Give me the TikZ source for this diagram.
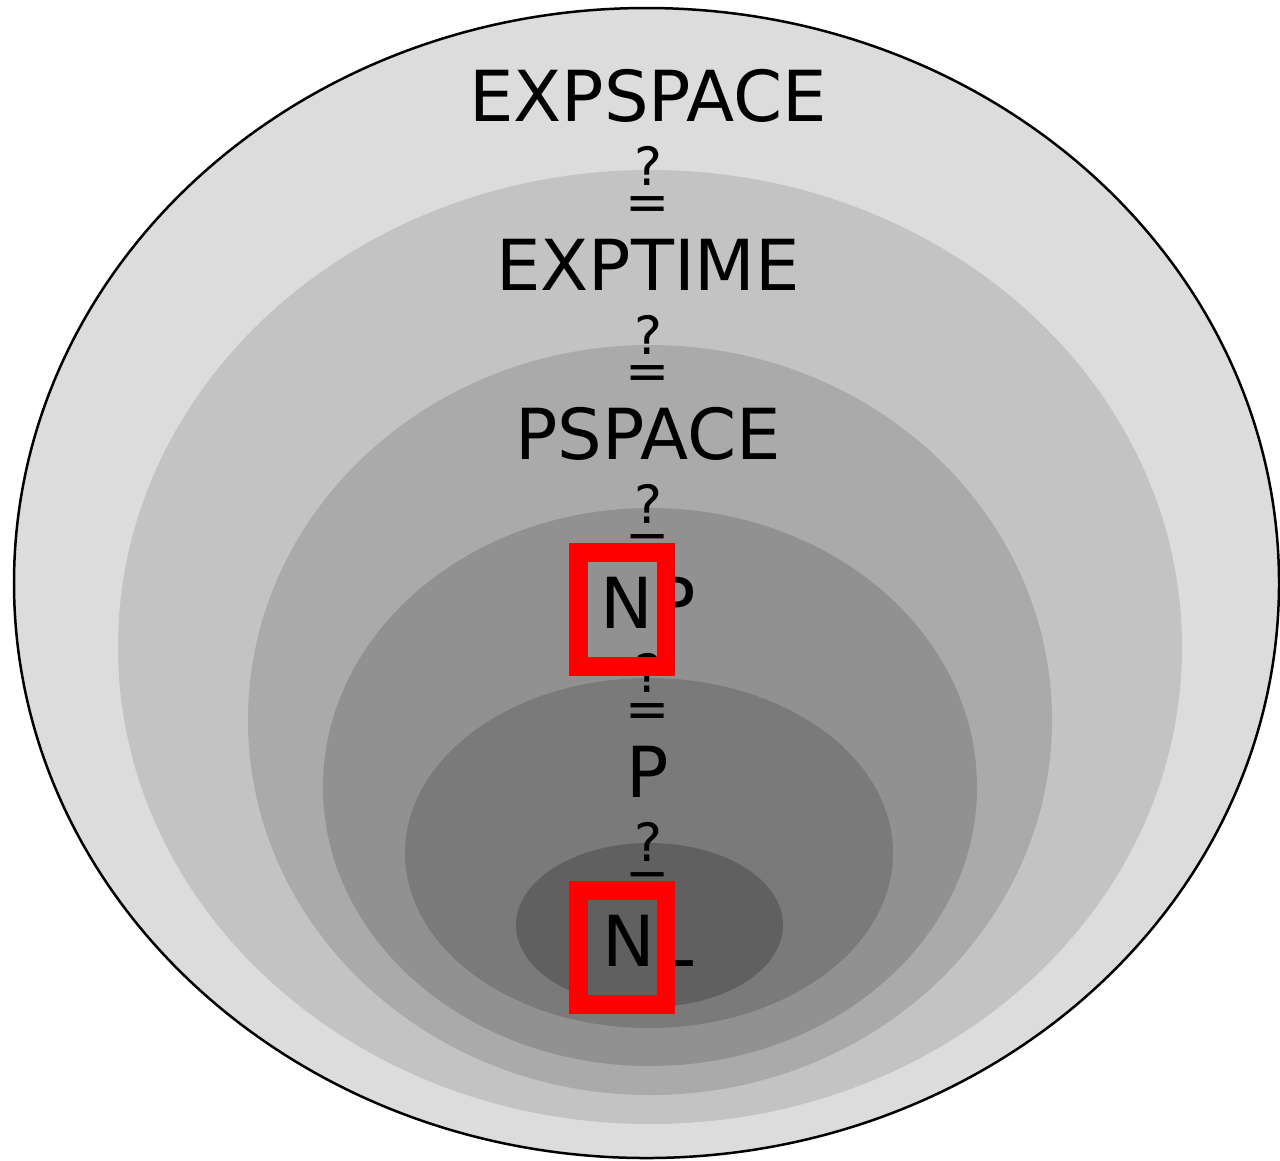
\documentclass[tikz,border=0pt]{standalone}
\usepackage{fontspec}
\setmainfont{DejaVu Sans}
\definecolor{g1}{RGB}{220,220,220}
\definecolor{g2}{RGB}{195,195,195}
\definecolor{g3}{RGB}{170,170,170}
\definecolor{g4}{RGB}{145,145,145}
\definecolor{g5}{RGB}{122,122,122}
\definecolor{g6}{RGB}{96,96,96}
\definecolor{hl}{RGB}{255,0,0}
\begin{document}
\begin{tikzpicture}[x=0.01cm,y=-0.01cm,
  cls/.style={anchor=base,inner sep=0pt,font=\fontsize{20pt}{24pt}\selectfont},
  rel/.style={anchor=base,inner sep=0pt,font=\fontsize{15pt}{18pt}\selectfont},
  hlbox/.style={draw=hl,line width=0.185cm}]
\useasboundingbox (0,0) rectangle (1280,1160);
\fill[white] (0,0) rectangle (1280,1160);
% nested classes
\filldraw[fill=g1,draw=black,line width=0.025cm] (646.5,583) ellipse [x radius=632.5,y radius=575];
\fill[g2] (650,647) ellipse [x radius=532,y radius=477];
\fill[g3] (650,720) ellipse [x radius=402,y radius=375];
\fill[g4] (650,787) ellipse [x radius=327,y radius=279];
\fill[g5] (649,853) ellipse [x radius=244,y radius=175];
\fill[g6] (649.5,925) ellipse [x radius=133.5,y radius=82];
% labels
\node[cls] (expspace) at (648,121) {EXPSPACE};
\node[rel] (q1) at (648,220) {\shortstack{?\\=}};
\node[cls] (exptime) at (648,290) {EXPTIME};
\node[rel] (q2) at (648,389) {\shortstack{?\\=}};
\node[cls] (pspace) at (648,459) {PSPACE};
\node[rel] (q3) at (648,558) {\shortstack{?\\=}};
\node[cls] (np) at (648,628) {NP};
\node[rel] (q4) at (648,727) {\shortstack{?\\=}};
\node[cls] (p) at (648,797) {P};
\node[rel] (q5) at (648,896) {\shortstack{?\\=}};
\node[cls] (nl) at (648,966) {NL};
% highlight boxes
\draw[hlbox] (578.5,552.5) rectangle (666,666.5);
\draw[hlbox] (578.5,890.5) rectangle (666,1004.5);
\end{tikzpicture}
\end{document}
